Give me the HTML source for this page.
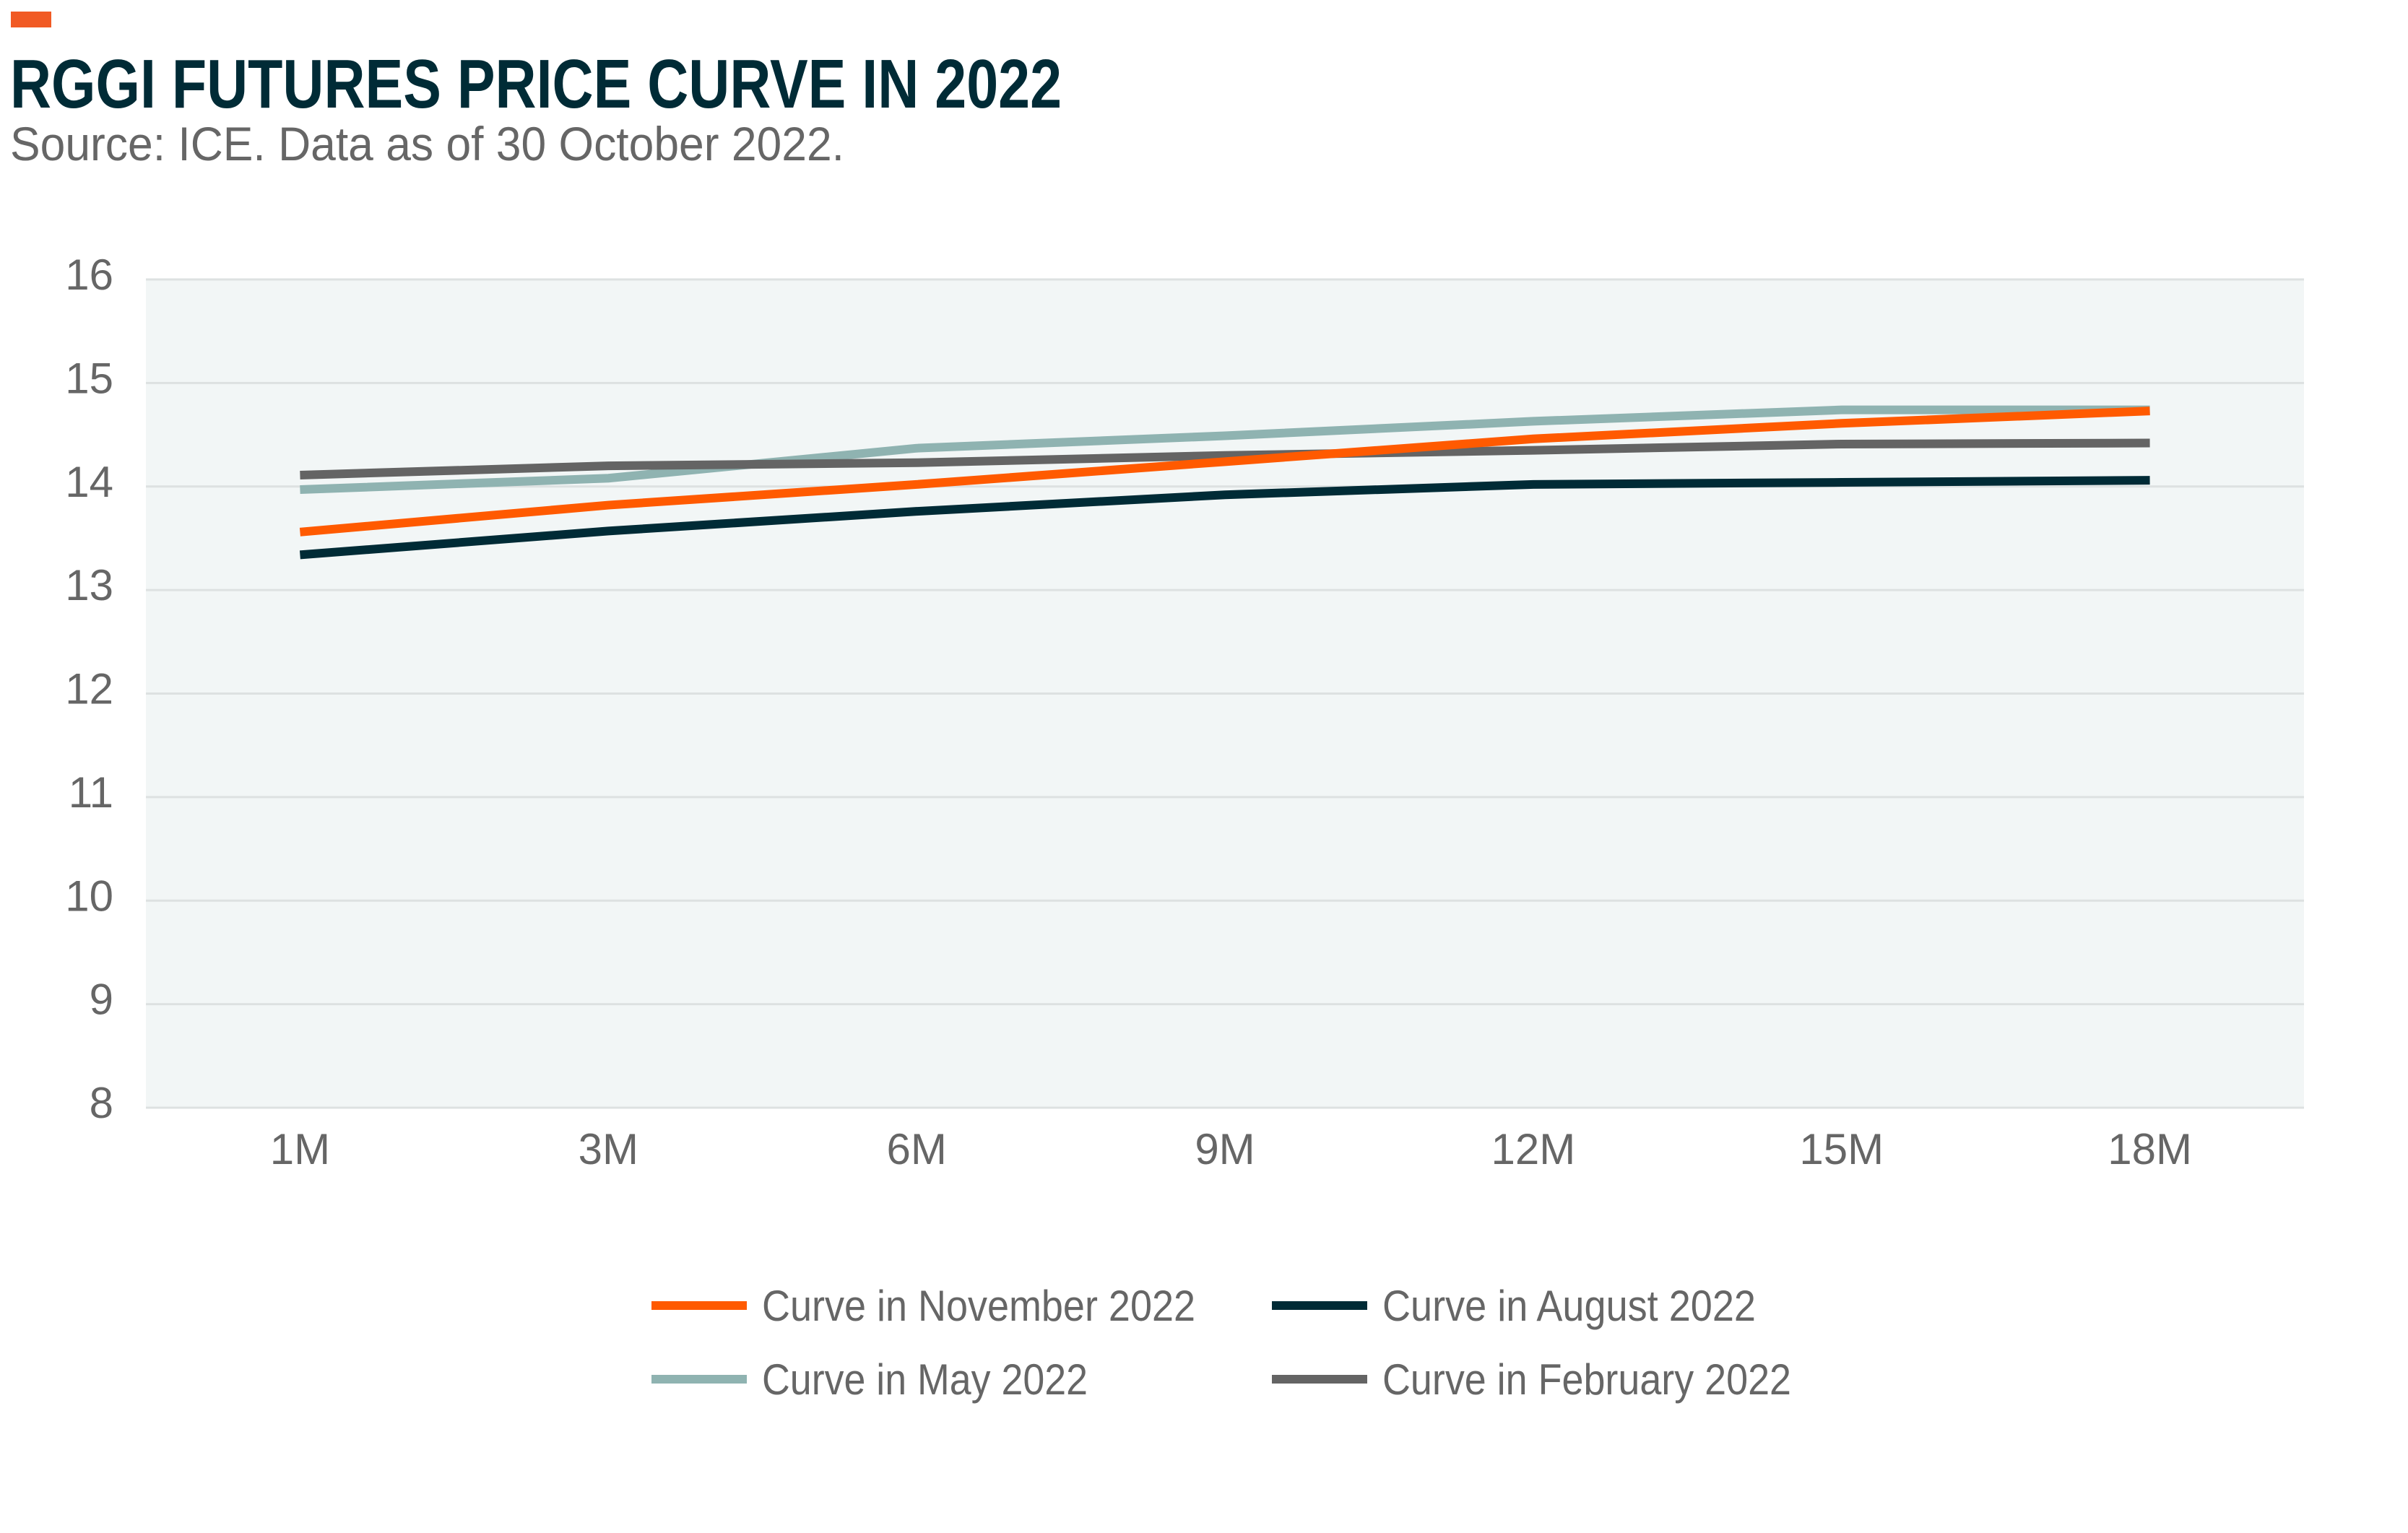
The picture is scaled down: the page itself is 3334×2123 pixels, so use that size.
<!DOCTYPE html>
<html><head><meta charset="utf-8"><style>
html,body{margin:0;padding:0;background:#fff;}
svg{display:block;font-family:"Liberation Sans",sans-serif;}
</style></head><body>
<svg id="chart" width="3334" height="2123" viewBox="0 0 3334 2123" xmlns="http://www.w3.org/2000/svg">
<rect x="15" y="16" width="56" height="22" fill="#f15a24"/>
<text x="14" y="149" font-size="96" font-weight="bold" fill="#002b36" textLength="1456" lengthAdjust="spacingAndGlyphs">RGGI FUTURES PRICE CURVE IN 2022</text>
<text x="14" y="222" font-size="66" fill="#666" textLength="1155" lengthAdjust="spacingAndGlyphs">Source: ICE. Data as of 30 October 2022.</text>
<rect x="202" y="387" width="2988" height="1147" fill="#f2f6f6"/>
<g id="grid"></g><g id="yticks"></g><g id="xticks"></g><g id="lines"></g><g id="legend"></g>
</svg>
<script>
const categories=["1M","3M","6M","9M","12M","15M","18M"];
const yTicks=[8,9,10,11,12,13,14,15,16];
const seriesNames=["Curve in November 2022","Curve in August 2022","Curve in May 2022","Curve in February 2022"];
const novValues=[13.56,13.82,14.02,14.24,14.46,14.61,14.73];
const augValues=[13.34,13.57,13.76,13.92,14.02,14.04,14.06];
const mayValues=[13.97,14.08,14.37,14.49,14.63,14.74,14.74];
const febValues=[14.11,14.20,14.23,14.30,14.35,14.41,14.42];
const NS="http://www.w3.org/2000/svg";
const L=202,R=3190,T=387,B=1534,ymin=8,ymax=16;
const band=(R-L)/categories.length;
function xs(i){return L+band*(i+0.5);}
function ys(v){return B-(v-ymin)/(ymax-ymin)*(B-T);}
function mk(tag,attrs,parent){const e=document.createElementNS(NS,tag);for(const k in attrs)e.setAttribute(k,attrs[k]);parent.appendChild(e);return e;}
const grid=document.getElementById('grid'),yt=document.getElementById('yticks'),xt=document.getElementById('xticks'),lines=document.getElementById('lines'),leg=document.getElementById('legend');
yTicks.forEach(v=>{
 const g=mk('line',{x1:L,x2:R,y1:ys(v),y2:ys(v),stroke:'#dde1e1','stroke-width':3},grid);
 
 
 const t=mk('text',{x:157,y:ys(v)+14,'font-size':60,fill:'#666','text-anchor':'end'},yt);
 t.textContent=v;
 
 
});
categories.forEach((c,i)=>{
 const t=mk('text',{x:xs(i),y:1612,'font-size':60,fill:'#666','text-anchor':'middle'},xt);
 t.textContent=c;
 
 
});
const colors=["#ff5a00","#002b36","#8fb3b1","#646464"];
const data=[novValues,augValues,mayValues,febValues];
[2,3,0,1].forEach(s=>{
 const pts=data[s].map((v,i)=>xs(i)+','+ys(v)).join(' ');
 const p=mk('polyline',{points:pts,fill:'none',stroke:colors[s],'stroke-width':12,'stroke-linejoin':'miter'},lines);
 
 
});
const legPos=[[902,1808],[1761,1808],[902,1910],[1761,1910]];
const legW=[600,517,451,566];
[0,1,2,3].forEach((s,k)=>{
 const [x,y]=legPos[k];
 const ln=mk('line',{x1:x,x2:x+132,y1:y,y2:y,stroke:colors[s],'stroke-width':12},leg);
 
 
 const t=mk('text',{x:x+153,y:y+21,'font-size':60,fill:'#666',textLength:legW[k],lengthAdjust:'spacingAndGlyphs'},leg);
 t.textContent=seriesNames[s];
 
 
});
</script>
</body></html>
